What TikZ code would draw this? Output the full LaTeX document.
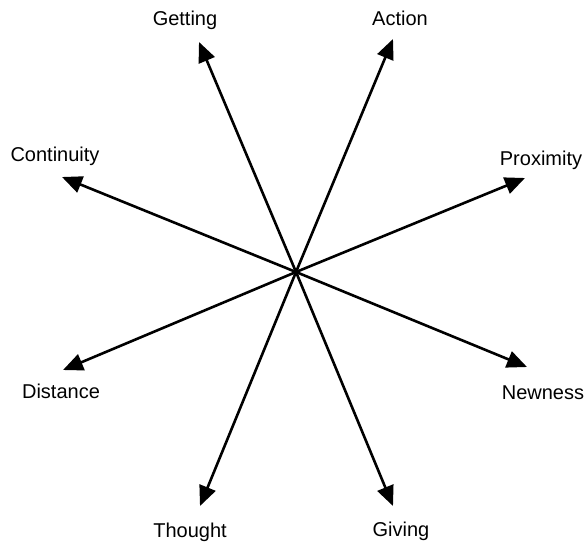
\documentclass[tikz,border=0pt]{standalone}
\usepackage{fontspec}
\setmainfont{Liberation Sans}
\usetikzlibrary{arrows.meta}
\begin{document}
\begin{tikzpicture}[x=1pt,y=-1pt,
  ray/.style={line width=2.6pt,-{Triangle[length=20pt,width=17pt]}},
  lab/.style={font=\fontsize{20}{22}\selectfont,inner sep=0pt}]
\useasboundingbox (0,0) rectangle (587,542);
\coordinate (c) at (296,272);
\coordinate (tGetting) at (199,42);
\coordinate (tAction) at (393,39);
\coordinate (tContinuity) at (62,177);
\coordinate (tProximity) at (525,178);
\coordinate (tDistance) at (63,370);
\coordinate (tNewness) at (527,367);
\coordinate (tThought) at (200,506);
\coordinate (tGiving) at (393,506);
\node[lab] (Getting) at (185,20) {Getting};
\node[lab] (Action) at (400,18) {Action};
\node[lab] (Continuity) at (55,156) {Continuity};
\node[lab] (Proximity) at (541,160) {Proximity};
\node[lab] (Distance) at (61,391) {Distance};
\node[lab] (Newness) at (543,393) {Newness};
\node[lab] (Thought) at (190,532) {Thought};
\node[lab] (Giving) at (401,531) {Giving};
\foreach \t in {Getting,Action,Continuity,Proximity,Distance,Newness,Thought,Giving}
  \draw[ray] (c) -- (t\t);
\end{tikzpicture}
\end{document}
